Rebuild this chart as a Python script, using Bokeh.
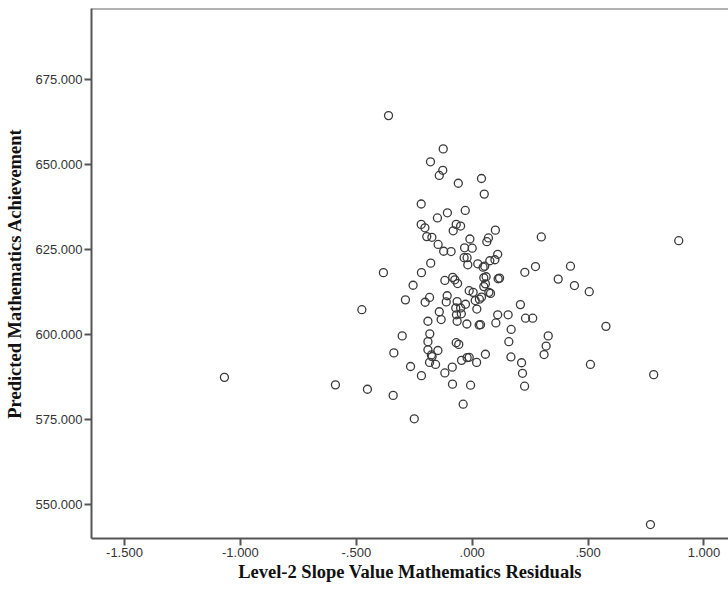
from bokeh.plotting import figure
from bokeh.models import FixedTicker, CustomJSTickFormatter, Span, Range1d, ColumnDataSource
from bokeh.embed import file_html
from bokeh.resources import INLINE

# Level-2 slope residuals (x) and predicted mathematics achievement (y)
x_resid = [
    -1.069, -0.361, -0.590, -0.452, -0.476, -0.383, -0.341, -0.338, -0.250,
    0.891, 0.783, 0.769,
    -0.125, -0.180, -0.127, -0.142, -0.060, 0.040, 0.052, -0.220, -0.107,
    -0.150, -0.030, -0.220, -0.204, -0.069, -0.050, -0.082, 0.100,
    0.298, 0.273, 0.424, 0.227, 0.371, 0.441, 0.505, 0.208, 0.155, 0.230,
    0.261, 0.110, 0.102, 0.168, 0.328, 0.319, 0.310, 0.577, 0.510, 0.158,
    0.167, 0.213, 0.217, 0.057, 0.019, -0.013, -0.022, -0.046, -0.086,
    -0.118, -0.219, -0.266, -0.184, -0.158, -0.173, -0.148, -0.191, -0.191,
    -0.183, -0.069, -0.058, -0.302, -0.191, -0.134, -0.142, -0.065, -0.023,
    0.030, 0.036, 0.020, -0.068, -0.047, -0.071, -0.050, -0.029, -0.065,
    -0.108, -0.112, -0.203, -0.184, -0.288, -0.255, -0.219, -0.179, -0.118,
    -0.084, -0.075, -0.063, -0.013, 0.004, 0.040, 0.031, 0.013, 0.072,
    0.079, 0.050, 0.057, 0.050, 0.060, 0.112, 0.118, 0.047, 0.054, 0.024,
    -0.019, -0.035, -0.022, 0.076, 0.098, 0.110, -0.033, 0.000, -0.123,
    -0.091, -0.147, -0.196, -0.174, -0.010, 0.063, 0.070,
    -0.085, -0.007, -0.039, 0.226, -0.176,
]
y_pred = [
    587.4, 664.4, 585.2, 583.9, 607.3, 618.2, 582.1, 594.6, 575.2,
    627.6, 588.2, 544.1,
    654.6, 650.8, 648.3, 646.8, 644.5, 645.9, 641.3, 638.4, 635.8,
    634.3, 636.5, 632.4, 631.4, 632.4, 631.9, 630.5, 630.7,
    628.7, 620.0, 620.1, 618.3, 616.3, 614.4, 612.6, 608.8, 605.8, 604.8,
    604.8, 605.8, 603.4, 601.5, 599.6, 596.6, 594.1, 602.4, 591.2, 597.9,
    593.4, 591.7, 588.6, 594.2, 591.8, 593.3, 593.2, 592.4, 590.4,
    588.7, 587.9, 590.6, 591.8, 591.2, 593.5, 595.3, 595.5, 597.9,
    600.2, 597.6, 597.1, 599.6, 603.9, 604.4, 606.7, 603.9, 603.1,
    602.8, 602.9, 607.5, 605.8, 606.1, 607.8, 607.8, 608.9, 609.7,
    611.4, 609.6, 609.5, 610.9, 610.2, 614.5, 618.2, 621.0, 615.9,
    616.8, 616.1, 615.0, 612.9, 612.4, 611.0, 610.4, 610.0, 612.4,
    612.1, 614.1, 614.9, 616.7, 617.0, 616.4, 616.6, 619.8, 620.1, 620.8,
    620.5, 622.6, 622.6, 621.7, 622.0, 623.6, 625.5, 625.4, 624.5,
    624.4, 626.5, 628.8, 628.6, 628.1, 627.3, 628.4,
    585.4, 585.1, 579.5, 584.8, 594.0,
]

x_ticks = [-1.5, -1.0, -0.5, 0.0, 0.5, 1.0]
y_ticks = [550, 575, 600, 625, 650, 675]
x_title = "Level-2 Slope Value Mathematics Residuals"
y_title = "Predicted Mathematics Achievement"

X_START, X_END = -1.6424, 1.1057
Y_START, Y_END = 540.0, 695.9

src = ColumnDataSource(dict(x=x_resid, y=y_pred))

p = figure(width=728, height=593, output_backend="svg", toolbar_location=None,
           x_range=Range1d(X_START, X_END), y_range=Range1d(Y_START, Y_END),
           min_border_left=91, min_border_right=0, min_border_top=8,
           min_border_bottom=55, background_fill_color="white",
           border_fill_color="white")
p.outline_line_color = None
p.grid.visible = False

p.scatter("x", "y", source=src, marker="circle", size=8, fill_color=None,
          line_color="#3a3a3a", line_width=1.3)

top = Span(location=Y_END, dimension="width", line_color="#666666", line_width=2)
p.add_layout(top)

for ax in (p.xaxis[0], p.yaxis[0]):
    ax.axis_line_color = "#555555"
    ax.axis_line_width = 2
    ax.major_tick_line_color = "#555555"
    ax.major_tick_line_width = 2
    ax.major_tick_out = 7
    ax.major_tick_in = 0
    ax.minor_tick_line_color = None
    ax.major_label_text_font = "Liberation Sans"
    ax.major_label_text_font_size = "13px"
    ax.major_label_text_color = "#333333"
    ax.major_label_standoff = 2
    ax.axis_label_text_font = "Liberation Serif"
    ax.axis_label_text_font_style = "bold"
    ax.axis_label_text_font_size = "18.5px"
    ax.axis_label_text_color = "#111111"

p.xaxis.ticker = FixedTicker(ticks=x_ticks)
p.yaxis.ticker = FixedTicker(ticks=y_ticks)
p.xaxis.formatter = CustomJSTickFormatter(
    code="return tick.toFixed(3).replace(/^(-?)0\\./, '$1.');")
p.yaxis.formatter = CustomJSTickFormatter(code="return tick.toFixed(3);")
p.xaxis.axis_label = x_title
p.yaxis.axis_label = y_title
p.xaxis.axis_label_standoff = 2
p.yaxis.axis_label_standoff = 8

open("out.html", "w").write(file_html(p, INLINE))
